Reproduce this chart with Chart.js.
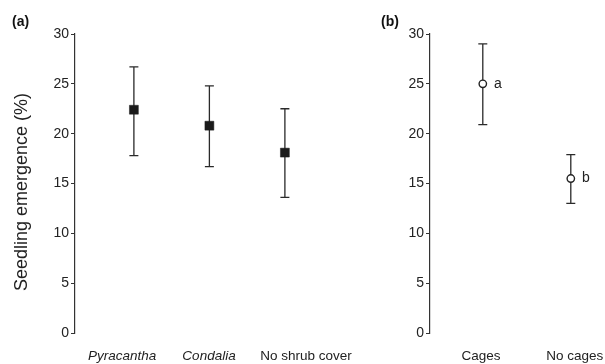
<!DOCTYPE html>
<html>
<head>
<meta charset="utf-8">
<script src="https://cdn.jsdelivr.net/npm/chart.js@4"></script>
<style>
  html, body { margin: 0; padding: 0; background: #fff; }
  #wrap { position: relative; width: 605px; height: 364px; }
  #chartA { position: absolute; left: 0; top: 0; }
  #chartB { position: absolute; left: 380px; top: 0; }
  .panel { position: absolute; top: 13px; font: bold 14px "Liberation Sans", Arial, sans-serif; color: #111; }
</style>
</head>
<body>
<div id="wrap">
  <canvas id="chartA" width="380" height="364"></canvas>
  <canvas id="chartB" width="225" height="364"></canvas>
  <div class="panel" style="left:12px">(a)</div>
  <div class="panel" style="left:381px">(b)</div>
</div>
<script>
// --- data (a): shrub cover ---
const shrubCats = ['Pyracantha', 'Condalia', 'No shrub cover'];
const shrubItalic = [true, true, false];
const shrubMean = [22.4, 20.8, 18.1];
const shrubLow = [17.8, 16.7, 13.6];
const shrubHigh = [26.7, 24.8, 22.5];

// --- data (b): cages ---
const cageCats = ['Cages', 'No cages'];
const cageMean = [25.0, 15.5];
const cageLow = [20.9, 13.0];
const cageHigh = [29.0, 17.9];
const cageLetters = ['a', 'b'];

const yTicks = [0, 5, 10, 15, 20, 25, 30];

const FONT = '"Liberation Sans", Arial, Helvetica, sans-serif';
const INK = '#222';

// where the category names sit on the x scale (they are not exactly under the points)
const shrubLabelPos = [0.843, 1.995, 3.28];
const cageLabelPos = [0.98, 2.045];

// error bars, drawn through the chart's own scales
const errorBars = {
  id: 'errorBars',
  beforeDatasetsDraw(chart) {
    const ctx = chart.ctx;
    const xs = chart.scales.x, ys = chart.scales.y;
    chart.data.datasets.forEach(ds => {
      ds.data.forEach((p, i) => {
        const x = xs.getPixelForValue(p.x);
        const yl = ys.getPixelForValue(ds.errLow[i]);
        const yh = ys.getPixelForValue(ds.errHigh[i]);
        ctx.save();
        ctx.strokeStyle = '#2a2a2a';
        ctx.lineWidth = 1.3;
        ctx.beginPath();
        ctx.moveTo(x, yl); ctx.lineTo(x, yh);
        ctx.moveTo(x - 4.5, yl); ctx.lineTo(x + 4.5, yl);
        ctx.moveTo(x - 4.5, yh); ctx.lineTo(x + 4.5, yh);
        ctx.stroke();
        ctx.restore();
      });
    });
  }
};

// y axis title for panel (a)
const yTitle = {
  id: 'yTitle',
  afterDraw(chart) {
    const ctx = chart.ctx;
    ctx.save();
    ctx.translate(22, 192);
    ctx.rotate(-Math.PI / 2);
    ctx.font = '18px ' + FONT;
    ctx.fillStyle = INK;
    ctx.textAlign = 'center';
    ctx.textBaseline = 'middle';
    ctx.fillText('Seedling emergence (%)', 0, 0);
    ctx.restore();
  }
};

// significance letters beside the points in panel (b)
const sigLetters = {
  id: 'sigLetters',
  afterDatasetsDraw(chart) {
    const ctx = chart.ctx;
    const meta = chart.getDatasetMeta(0);
    ctx.save();
    ctx.font = '14px ' + FONT;
    ctx.fillStyle = INK;
    ctx.textAlign = 'center';
    ctx.textBaseline = 'middle';
    meta.data.forEach((pt, i) => {
      ctx.fillText(cageLetters[i], pt.x + 15, pt.y);
    });
    ctx.restore();
  }
};

function makeOptions(axisWidth, xMin, xMax, labelPos, labels, italic, padRight) {
  return {
    responsive: false,
    animation: false,
    layout: { padding: { top: 34, left: 0, right: padRight, bottom: 0 } },
    plugins: { legend: { display: false }, tooltip: { enabled: false } },
    scales: {
      x: {
        type: 'linear',
        min: xMin,
        max: xMax,
        grid: { display: false },
        border: { display: false },
        afterBuildTicks: scale => { scale.ticks = labelPos.map(v => ({ value: v })); },
        afterFit: scale => {
          scale.height = 31;
          // labels may hang past the plot edge; don't let that shrink the plot
          scale.paddingLeft = 0;
          scale.paddingRight = 0;
        },
        ticks: {
          autoSkip: false,
          maxRotation: 0,
          minRotation: 0,
          padding: 7,
          color: INK,
          font: c => ({ family: FONT, size: 13.5, style: italic[c.index] ? 'italic' : 'normal' }),
          callback: (v, i) => labels[i]
        }
      },
      y: {
        min: 0,
        max: 30,
        afterBuildTicks: scale => { scale.ticks = yTicks.map(v => ({ value: v })); },
        afterFit: scale => { scale.width = axisWidth; },
        grid: { display: true, drawOnChartArea: false, drawTicks: true, tickLength: 4, color: '#333', lineWidth: 1 },
        border: { display: true, color: '#333', width: 1.2 },
        ticks: { padding: 2, color: INK, font: { family: FONT, size: 14 } }
      }
    }
  };
}

new Chart(document.getElementById('chartA'), {
  type: 'scatter',
  data: {
    datasets: [{
      data: shrubCats.map((c, i) => ({ x: i + 1, y: shrubMean[i] })),
      errLow: shrubLow,
      errHigh: shrubHigh,
      pointStyle: 'rect',
      pointRadius: 6.3,
      backgroundColor: '#1a1a1a',
      borderColor: '#1a1a1a',
      borderWidth: 0.5
    }]
  },
  options: makeOptions(75, 0.22, 3.571, shrubLabelPos, shrubCats, shrubItalic, 52),
  plugins: [errorBars, yTitle]
});

new Chart(document.getElementById('chartB'), {
  type: 'scatter',
  data: {
    datasets: [{
      data: cageCats.map((c, i) => ({ x: i + 1, y: cageMean[i] })),
      errLow: cageLow,
      errHigh: cageHigh,
      pointStyle: 'circle',
      pointRadius: 3.7,
      backgroundColor: '#fff',
      borderColor: '#222',
      borderWidth: 1.4
    }]
  },
  options: makeOptions(50, 0.4, 2.275, cageLabelPos, cageCats, [false, false], 10),
  plugins: [errorBars, sigLetters]
});
</script>
</body>
</html>
